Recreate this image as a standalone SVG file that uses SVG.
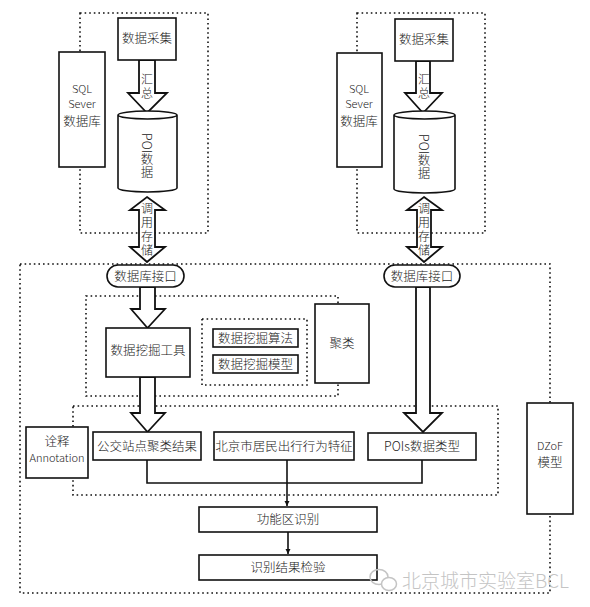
<svg xmlns="http://www.w3.org/2000/svg" width="590" height="607" viewBox="0 0 590 607">
<style>
text{font-family:"Noto Sans CJK SC","Noto Sans",sans-serif;font-size:12.5px;font-weight:300;fill:#222;text-anchor:middle}
.box{fill:#fff;stroke:#111;stroke-width:1.6}
.dot{fill:none;stroke:#111;stroke-width:1.6;stroke-dasharray:1.6 3}
.blk{fill:#fff;stroke:#111;stroke-width:1.8;stroke-linejoin:miter}
.ln{fill:none;stroke:#111;stroke-width:1.6}
.lat{font-size:11px}
.vt{font-size:12px;writing-mode:vertical-rl;text-anchor:start;letter-spacing:2px}
.wm{fill:#c4c4c4;font-size:19px;text-anchor:start}
</style>
<defs>
<marker id="ah" viewBox="0 0 10 10" refX="10" refY="5" markerWidth="5" markerHeight="6" orient="auto" markerUnits="userSpaceOnUse">
<path d="M0,0 L10,5 L0,10 Z" fill="#111"/>
</marker>
</defs>
<rect width="590" height="607" fill="#fff"/>

<g id="dotted-frames">
<rect class="dot" x="80" y="13" width="128" height="220"/>
<rect class="dot" x="357" y="13" width="128" height="220"/>
<rect class="dot" x="20" y="264" width="530" height="329"/>
<rect class="dot" x="86" y="296" width="252" height="100"/>
<rect class="dot" x="202" y="319" width="105" height="66"/>
<rect class="dot" x="73" y="406" width="425" height="89"/>
</g>

<g id="connectors">
<polyline class="ln" points="147,460 147,483 422,483 422,460"/>
<line class="ln" x1="287" y1="460" x2="287" y2="506" marker-end="url(#ah)"/>
<line class="ln" x1="288" y1="532" x2="288" y2="554" marker-end="url(#ah)"/>
<polygon class="blk" points="139,60 155,60 155,93 167,93 147,113 128,93 139,93"/>
<polygon class="blk" points="147,197 165,210 155,210 155,247 165,247 147,262 130,247 139,247 139,210 130,210"/>
<polygon class="blk" points="416,61 430,61 430,93 442,93 423,113 405,93 416,93"/>
<polygon class="blk" points="424,197 442,210 431,210 431,247 442,247 424,262 407,247 417,247 417,210 407,210"/>
<polygon class="blk" points="140,287 155,287 155,309 165,309 147.5,328 131,309 140,309"/>
<polygon class="blk" points="140,377 155,377 155,413 165,413 147.5,432 131,413 140,413"/>
<polygon class="blk" points="416,287 430,287 430,413 442,413 423,432 404,413 416,413"/>
<text class="vt" x="147" y="73">汇总</text>
<text class="vt" x="424" y="73">汇总</text>
<text class="vt" x="147" y="202">调用存储</text>
<text class="vt" x="424" y="202">调用存储</text>
</g>

<g id="sql-left"><rect class="box" x="59" y="52" width="46" height="115"/>
<text x="82" y="93"><tspan class="lat" x="82">SQL</tspan><tspan class="lat" x="82" dy="15">Sever</tspan><tspan x="82" dy="18">数据库</tspan></text></g>
<g id="collect-left"><rect class="box" x="118" y="18" width="58" height="42"/><text x="147" y="43">数据采集</text></g>
<g id="poi-left">
<path class="box" d="M118,115 L118,188 A29.5,4 0 0 0 177,188 L177,115 A29.5,4 0 0 0 118,115 Z M118,115 A29.5,4 0 0 0 177,115"/>
<text x="147" y="133" style="writing-mode:vertical-rl;text-anchor:start">POI数据</text>
</g>

<g id="sql-right"><rect class="box" x="337" y="53" width="45" height="114"/>
<text x="359" y="93"><tspan class="lat" x="359">SQL</tspan><tspan class="lat" x="359" dy="15">Sever</tspan><tspan x="359" dy="18">数据库</tspan></text></g>
<g id="collect-right"><rect class="box" x="395" y="19" width="58" height="42"/><text x="424" y="44">数据采集</text></g>
<g id="poi-right">
<path class="box" d="M394,115 L394,189 A30.5,4 0 0 0 455,189 L455,115 A30.5,4 0 0 0 394,115 Z M394,115 A30.5,4 0 0 0 455,115"/>
<text x="424" y="134" style="writing-mode:vertical-rl;text-anchor:start">POI数据</text>
</g>

<g id="db-if-left"><rect class="box" x="107" y="265" width="77" height="22" rx="11"/><text x="145.5" y="280.5">数据库接口</text></g>
<g id="db-if-right"><rect class="box" x="384" y="265" width="76" height="22" rx="11"/><text x="422" y="280.5">数据库接口</text></g>

<g id="dm-tool"><rect class="box" x="106" y="328" width="84" height="49"/><text x="148" y="354.5">数据挖掘工具</text></g>
<g id="dm-alg"><rect class="box" x="213" y="329" width="85" height="18"/><text x="255.5" y="342.5">数据挖掘算法</text></g>
<g id="dm-model"><rect class="box" x="213" y="355" width="85" height="18"/><text x="255.5" y="368.5">数据挖掘模型</text></g>
<g id="cluster"><rect class="box" x="315" y="304" width="54" height="79"/><text x="342" y="348">聚类</text></g>

<g id="annotation"><rect class="box" x="26" y="427" width="62" height="51"/>
<text x="57" y="446">诠释<tspan class="lat" x="57" dy="16">Annotation</tspan></text></g>
<g id="bus"><rect class="box" x="93" y="432" width="108" height="28"/><text x="147" y="450.5">公交站点聚类结果</text></g>
<g id="travel"><rect class="box" x="214" y="432" width="140" height="28"/><text x="284" y="450.5">北京市居民出行行为特征</text></g>
<g id="pois"><rect class="box" x="368" y="433" width="108" height="27"/><text x="422" y="450.5">POIs数据类型</text></g>

<g id="dzof"><rect class="box" x="527" y="403" width="46" height="111"/>
<text x="550" y="450"><tspan class="lat">DZoF</tspan><tspan x="550" dy="17">模型</tspan></text></g>

<g id="func"><rect class="box" x="199" y="507" width="178" height="25"/><text x="288" y="523.5">功能区识别</text></g>
<g id="check"><rect class="box" x="199" y="555" width="178" height="25"/><text x="288" y="571.5">识别结果检验</text></g>

<g id="watermark">
<ellipse cx="379" cy="577" rx="9" ry="7.5" fill="none" stroke="#c4c4c4" stroke-width="1.5"/>
<ellipse cx="389" cy="584" rx="7.5" ry="6.5" fill="#fff" stroke="#c4c4c4" stroke-width="1.5"/>
<text class="wm" x="402" y="588">北京城市实验室BCL</text>
</g>
</svg>
